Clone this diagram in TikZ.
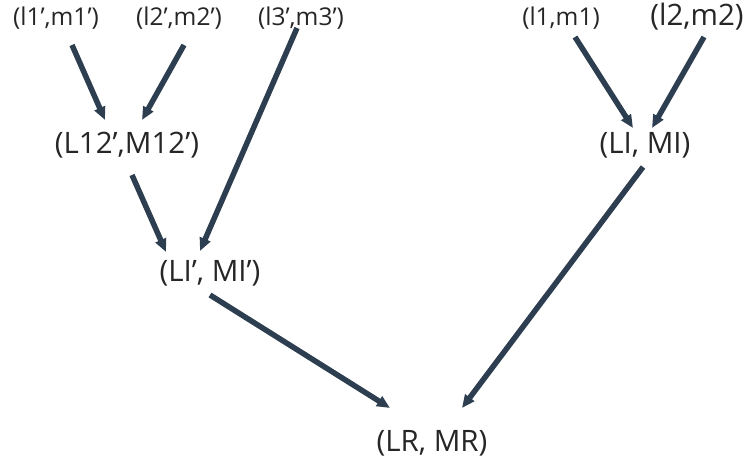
\documentclass[tikz,border=0pt]{standalone}
\usepackage{fontspec}
\setmainfont{Open Sans}
\usepackage{tikz}
\usetikzlibrary{arrows.meta}

\definecolor{inkgray}{RGB}{38,38,38}
\definecolor{slate}{RGB}{44,62,80}

\begin{document}
\begin{tikzpicture}[x=1pt, y=-1pt,
        pairsmall/.style={inner sep=0, text=inkgray, font=\fontsize{24.5}{29}\selectfont},
        pairbig/.style={inner sep=0, text=inkgray, font=\fontsize{29.5}{35}\selectfont},
        merge/.style={draw=slate, line width=5.5pt, -{Triangle[length=13pt, width=11pt]}}]
        \useasboundingbox (0, 0) rectangle (747, 463);
        % leaves
        \node [pairsmall] (l1p) at (56, 18) {(l1’,m1’)};
        \node [pairsmall] (l2p) at (179, 18) {(l2’,m2’)};
        \node [pairsmall] (l3p) at (301, 18) {(l3’,m3’)};
        \node [pairsmall] (l1) at (561, 18) {(l1,m1)};
        \node [pairbig] (l2) at (697, 17) {(l2,m2)};
        % inner pairs
        \node [pairbig] (L12p) at (127, 145) {(L12’,M12’)};
        \node [pairbig] (LIp) at (210, 273) {(LI’, MI’)};
        \node [pairbig] (LI) at (645, 145) {(LI, MI)};
        \node [pairbig] (LR) at (432, 443) {(LR, MR)};
        % arrows
        \draw [merge] ([shift={(16,27)}]l1p.center) -- ([shift={(-22,-25)}]L12p.center);
        \draw [merge] ([shift={(5,27)}]l2p.center) -- ([shift={(15,-25)}]L12p.center);
        \draw [merge] ([shift={(-4,10)}]l3p.center) -- ([shift={(-10,-22)}]LIp.center);
        \draw [merge] ([shift={(5,30)}]L12p.center) -- ([shift={(-44,-21)}]LIp.center);
        \draw [merge] ([shift={(14,19)}]l1.center) -- ([shift={(-12,-17)}]LI.center);
        \draw [merge] ([shift={(7,20)}]l2.center) -- ([shift={(7,-17)}]LI.center);
        \draw [merge] ([shift={(0,22)}]LIp.center) -- ([shift={(-42,-35)}]LR.center);
        \draw [merge] ([shift={(-2,22)}]LI.center) -- ([shift={(30,-35)}]LR.center);
\end{tikzpicture}
\end{document}
